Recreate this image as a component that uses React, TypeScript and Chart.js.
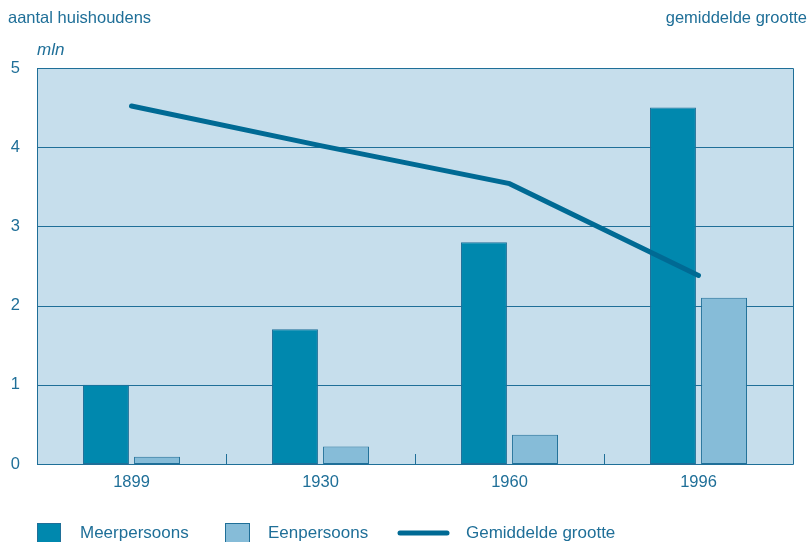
import React, { useEffect, useRef } from "react";
import { Chart, registerables } from "chart.js";

Chart.register(...registerables);

const categories = ["1899", "1930", "1960", "1996"];
const meerpersoons = [1.0, 1.7, 2.8, 4.5];
const eenpersoons = [0.09, 0.22, 0.37, 2.1];
const gemiddeldeGrootte = [4.52, 4.02, 3.54, 2.38];
const yTicks = [0, 1, 2, 3, 4, 5];

const TEXT = "#1f6f98";
const DARK = "#0088ae";
const LIGHT = "#86bcd8";
const BG = "#c6deec";
const LINE = "#006a94";
const GRID = "#1f6f98";
const FONT = "'Liberation Sans', Arial, sans-serif";

const decor = {
  id: "decor",
  beforeDatasetsDraw(chart: any) {
    const { ctx, chartArea: a, scales } = chart;
    ctx.save();
    ctx.fillStyle = BG;
    ctx.fillRect(a.left, a.top, a.right - a.left, a.bottom - a.top);
    ctx.strokeStyle = GRID;
    ctx.lineWidth = 1;
    for (const v of yTicks) {
      const y = Math.round(scales.y.getPixelForValue(v)) + 0.5;
      ctx.beginPath();
      ctx.moveTo(a.left, y);
      ctx.lineTo(a.right, y);
      ctx.stroke();
    }
    const n = categories.length;
    const w = (a.right - a.left) / n;
    for (let i = 1; i < n; i++) {
      const x = Math.round(a.left + i * w) + 0.5;
      ctx.beginPath();
      ctx.moveTo(x, a.bottom);
      ctx.lineTo(x, a.bottom - 10);
      ctx.stroke();
    }
    ctx.beginPath();
    ctx.rect(Math.round(a.left) + 0.5, Math.round(a.top) + 0.5, Math.round(a.right - a.left), Math.round(a.bottom - a.top));
    ctx.stroke();
    ctx.restore();
  },
  afterDraw(chart: any) {
    const { ctx } = chart;
    ctx.save();
    ctx.fillStyle = TEXT;
    ctx.font = `16.5px ${FONT}`;
    ctx.textBaseline = "middle";
    ctx.textAlign = "left";
    ctx.fillText("aantal huishoudens", 8, 18);
    ctx.textAlign = "right";
    ctx.fillText("gemiddelde grootte", 807, 18);
    ctx.textAlign = "left";
    ctx.font = `italic 17px ${FONT}`;
    ctx.fillText("mln", 37, 50);
    const ly = 533;
    ctx.font = `17px ${FONT}`;
    ctx.strokeStyle = GRID;
    ctx.lineWidth = 1;
    ctx.fillStyle = DARK;
    ctx.fillRect(37, 523, 24, 22);
    ctx.strokeRect(37.5, 523.5, 23, 22);
    ctx.fillStyle = LIGHT;
    ctx.fillRect(225, 523, 25, 22);
    ctx.strokeRect(225.5, 523.5, 24, 22);
    ctx.strokeStyle = LINE;
    ctx.lineWidth = 5;
    ctx.lineCap = "round";
    ctx.beginPath();
    ctx.moveTo(400, ly);
    ctx.lineTo(447, ly);
    ctx.stroke();
    ctx.fillStyle = TEXT;
    ctx.fillText("Meerpersoons", 80, ly);
    ctx.fillText("Eenpersoons", 268, ly);
    ctx.fillText("Gemiddelde grootte", 466, ly);
    ctx.restore();
  },
};

export default function App() {
  const ref = useRef<HTMLCanvasElement>(null);
  useEffect(() => {
    const chart = new Chart(ref.current as HTMLCanvasElement, {
      data: {
        labels: categories,
        datasets: [
          {
            type: "line" as const,
            label: "Gemiddelde grootte",
            data: gemiddeldeGrootte,
            borderColor: LINE,
            borderWidth: 5,
            pointRadius: 0,
            borderCapStyle: "round",
            yAxisID: "y1",
            order: 0,
          },
          {
            type: "bar" as const,
            label: "Meerpersoons",
            data: meerpersoons,
            backgroundColor: DARK,
            borderColor: GRID,
            borderWidth: 1,
            borderSkipped: false,
            categoryPercentage: 0.54,
            barPercentage: 0.9,
            order: 1,
          },
          {
            type: "bar" as const,
            label: "Eenpersoons",
            data: eenpersoons,
            backgroundColor: LIGHT,
            borderColor: GRID,
            borderWidth: 1,
            borderSkipped: false,
            categoryPercentage: 0.54,
            barPercentage: 0.9,
            order: 1,
          },
        ],
      },
      options: {
        animation: false,
        responsive: false,
        devicePixelRatio: 1,
        layout: { padding: { top: 68, right: 19, left: 0, bottom: 0 } },
        plugins: { legend: { display: false }, tooltip: { enabled: false } },
        scales: {
          x: {
            grid: { display: false, drawTicks: false },
            border: { display: false },
            ticks: { color: TEXT, font: { size: 16.5, family: FONT }, padding: 9 },
            afterFit: (s: any) => { s.height = 78; },
          },
          y: {
            min: 0,
            max: 5,
            grid: { display: false, drawTicks: false },
            border: { display: false },
            ticks: { stepSize: 1, color: TEXT, font: { size: 16.5, family: FONT }, padding: 17 },
            afterFit: (s: any) => { s.width = 37; },
          },
          y1: { min: 0, max: 5, display: false, position: "right" },
        },
      } as any,
      plugins: [decor],
    } as any);
    return () => chart.destroy();
  }, []);
  return (
    <div style={{ position: "absolute", left: 0, top: 0, width: 812, height: 542, background: "#fff" }}>
      <canvas ref={ref} width={812} height={542} style={{ width: 812, height: 542 }} />
    </div>
  );
}
